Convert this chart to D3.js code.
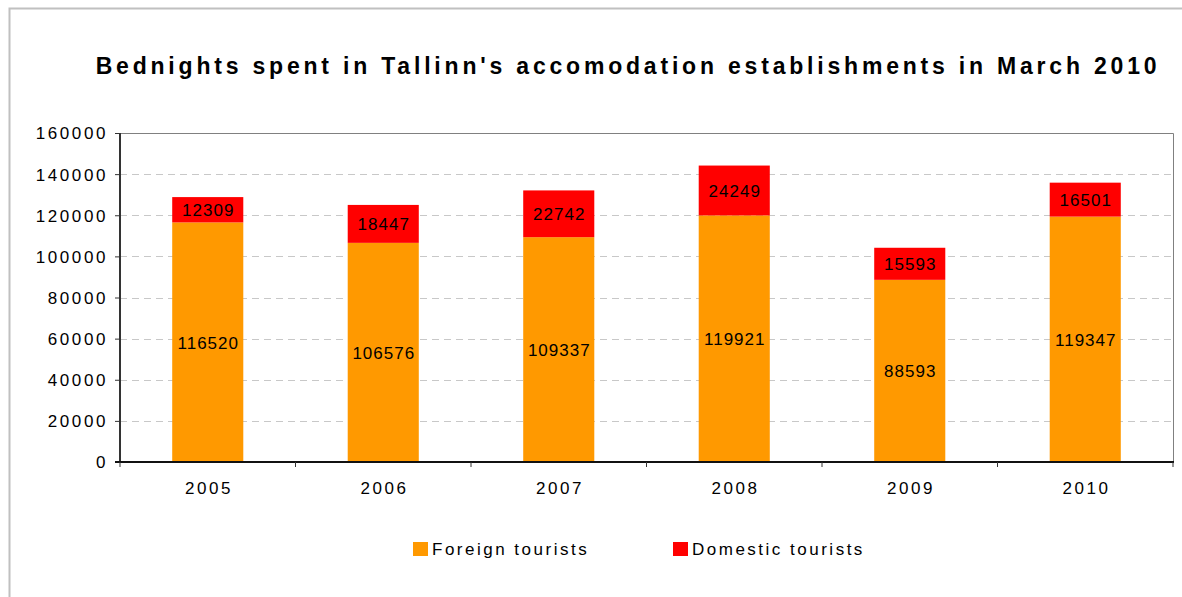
<!DOCTYPE html>
<html>
<head>
<meta charset="utf-8">
<script src="https://d3js.org/d3.v7.min.js"></script>
<style>
body { margin: 0; background: #fff; }
svg text { font-family: "Liberation Sans", Arial, sans-serif; fill: #000; }
</style>
</head>
<body>
<svg width="1182" height="597"></svg>
<script>
var years = ["2005", "2006", "2007", "2008", "2009", "2010"];
var foreign = [116520, 106576, 109337, 119921, 88593, 119347];
var domestic = [12309, 18447, 22742, 24249, 15593, 16501];
var seriesNames = ["Foreign tourists", "Domestic tourists"];
var seriesColors = ["#ff9900", "#ff0000"];
var yTicks = [0, 20000, 40000, 60000, 80000, 100000, 120000, 140000, 160000];

var svg = d3.select("svg");

// outer frame
svg.append("path")
	.attr("d", "M9.5,597 V8.5 H1182")
	.attr("fill", "none")
	.attr("stroke", "#c0c0c0")
	.attr("stroke-width", 2);

svg.append("text")
	.attr("x", 626)
	.attr("y", 74)
	.attr("dx", 2)
	.attr("text-anchor", "middle")
	.style("font-size", "23px")
	.style("font-weight", "bold")
	.style("letter-spacing", "3.8px")
	.text("Bednights spent in Tallinn's accomodation establishments in March 2010");

var plotL = 120, plotR = 1173, plotT = 133, plotB = 462;

var x = d3.scaleBand().domain(years).range([plotL, plotR])
	.paddingInner(0.595).paddingOuter(0.2975);
var y = d3.scaleLinear().domain([0, 160000]).range([plotB, plotT]);

// grid
svg.append("g").selectAll("line")
	.data(yTicks.filter(function(d) { return d > 0 && d < 160000; }))
	.enter().append("line")
		.attr("x1", plotL).attr("x2", plotR)
		.attr("y1", function(d) { return Math.round(y(d)) + 0.5; })
		.attr("y2", function(d) { return Math.round(y(d)) + 0.5; })
		.attr("stroke", "#c8c8c8")
		.attr("stroke-dasharray", "7,5");

// plot frame top + right
svg.append("path")
	.attr("d", "M" + plotL + "," + (plotT + 0.5) + " H" + (plotR + 0.5) + " V" + plotB)
	.attr("fill", "none")
	.attr("stroke", "#808080");

// stacked bars
var rows = years.map(function(yr, i) { return { year: yr, foreign: foreign[i], domestic: domestic[i] }; });
var stack = d3.stack().keys(["foreign", "domestic"])(rows);

var layer = svg.append("g").selectAll("g")
	.data(stack)
	.enter().append("g")
		.attr("fill", function(d, i) { return seriesColors[i]; });

layer.selectAll("rect")
	.data(function(d) { return d; })
	.enter().append("rect")
		.attr("x", function(d) { return x(d.data.year); })
		.attr("width", x.bandwidth())
		.attr("y", function(d) { return y(d[1]); })
		.attr("height", function(d) { return y(d[0]) - y(d[1]); });

layer.selectAll("text")
	.data(function(d) { return d; })
	.enter().append("text")
		.attr("x", function(d) { return x(d.data.year) + x.bandwidth() / 2; })
		.attr("y", function(d) { return (y(d[0]) + y(d[1])) / 2 + 6.5; })
		.attr("dx", 0.5)
		.attr("text-anchor", "middle")
		.style("font-size", "17px")
		.style("letter-spacing", "1px")
		.text(function(d) { return d[1] - d[0]; });

// y axis
var yAxis = svg.append("g")
	.attr("transform", "translate(" + plotL + ",0)")
	.call(d3.axisLeft(y).tickValues(yTicks).tickSize(5).tickFormat(d3.format("d")));
yAxis.select(".domain").attr("stroke", "#333").attr("stroke-width", 2).attr("d", "M0," + plotT + "V" + plotB);
yAxis.selectAll(".tick line").attr("stroke", "#333");
yAxis.selectAll("text")
	.attr("x", -12)
	.attr("dy", "0.35em")
	.attr("fill", "#000")
	.style("font-size", "17px")
	.style("letter-spacing", "2.6px")
	.style("font-family", "'Liberation Sans', Arial, sans-serif");

// x axis
var xg = svg.append("g").attr("transform", "translate(0," + plotB + ")");
xg.append("line")
	.attr("x1", plotL - 5).attr("x2", plotR + 1)
	.attr("stroke", "#111").attr("stroke-width", 2);
xg.selectAll(".xt")
	.data(d3.range(years.length + 1))
	.enter().append("line")
		.attr("x1", function(i) { return plotL + i * x.step(); })
		.attr("x2", function(i) { return plotL + i * x.step(); })
		.attr("y1", 0).attr("y2", 5)
		.attr("stroke", "#333");
xg.selectAll("text")
	.data(years)
	.enter().append("text")
		.attr("x", function(d) { return x(d) + x.bandwidth() / 2; })
		.attr("y", 32)
		.attr("dx", 1.25)
		.attr("text-anchor", "middle")
		.style("font-size", "17px")
		.style("letter-spacing", "2.5px")
		.text(function(d) { return d; });

// legend
var legendX = [413, 673];
var legend = svg.append("g").selectAll("g")
	.data(seriesNames)
	.enter().append("g")
		.attr("transform", function(d, i) { return "translate(" + legendX[i] + ",542)"; });
legend.append("rect")
	.attr("width", 15).attr("height", 14)
	.attr("fill", function(d, i) { return seriesColors[i]; });
legend.append("text")
	.attr("x", 19).attr("y", 13)
	.style("font-size", "17px")
	.style("letter-spacing", "2.5px")
	.text(function(d) { return d; });
</script>
</body>
</html>
